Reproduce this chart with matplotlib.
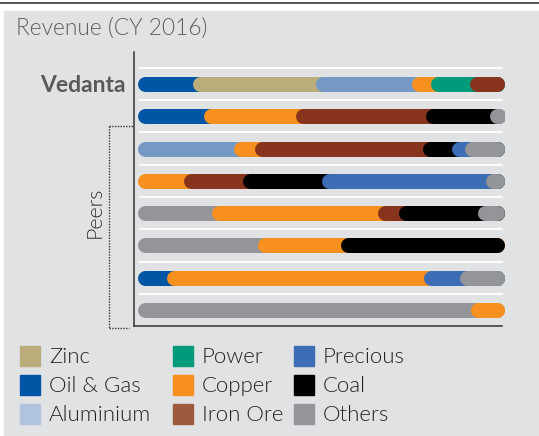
import numpy as np
import matplotlib
matplotlib.use("Agg")
import matplotlib.pyplot as plt
from matplotlib.patches import Rectangle
from matplotlib.lines import Line2D

# data (share of revenue, %)
companies = ["Vedanta", "Peer 1", "Peer 2", "Peer 3", "Peer 4", "Peer 5", "Peer 6", "Peer 7"]
segments = [
    ["Oil & Gas", "Zinc", "Aluminium", "Copper", "Power", "Iron Ore"],
    ["Oil & Gas", "Copper", "Iron Ore", "Coal", "Others"],
    ["Aluminium", "Copper", "Iron Ore", "Coal", "Precious", "Others"],
    ["Copper", "Iron Ore", "Coal", "Precious", "Others"],
    ["Others", "Copper", "Iron Ore", "Coal", "Others"],
    ["Others", "Copper", "Coal"],
    ["Oil & Gas", "Copper", "Precious", "Others"],
    ["Others", "Copper"],
]
shares = [
    [14.8, 33.7, 26.0, 5.3, 10.4, 9.8],
    [17.8, 25.1, 35.5, 17.8, 3.8],
    [26.2, 5.5, 45.9, 7.8, 3.6, 11.0],
    [12.6, 15.8, 21.7, 44.6, 5.3],
    [20.2, 45.1, 5.7, 21.6, 7.4],
    [32.5, 22.8, 44.7],
    [7.9, 70.0, 9.8, 12.3],
    [90.7, 9.3],
]

legend_order = ["Zinc", "Oil & Gas", "Aluminium",
                "Power", "Copper", "Iron Ore",
                "Precious", "Coal", "Others"]

bar_colors = {
    "Zinc": "#BBAD7B", "Oil & Gas": "#0055A4", "Aluminium": "#7599C5",
    "Power": "#009B7A", "Copper": "#F7901E", "Iron Ore": "#88341D",
    "Precious": "#3C6DB5", "Coal": "#000000", "Others": "#939598",
}
legend_colors = dict(bar_colors)
legend_colors["Aluminium"] = "#B0C4DF"
legend_colors["Iron Ore"] = "#9E5A3D"

W, H = 539, 436
fx = lambda x: x / W
fy = lambda y: 1 - y / H

plt.rcParams["font.family"] = ["Lato", "DejaVu Sans"]

fig = plt.figure(figsize=(W / 100, H / 100), dpi=100)
fig.patch.set_facecolor("white")

# grey panel + top rule
fig.patches.append(Rectangle((fx(4), 0), 1 - fx(4), fy(11), transform=fig.transFigure,
                             color="#E1E2E4", zorder=-5))
fig.lines.append(Line2D([0, 1], [fy(2.7), fy(2.7)], transform=fig.transFigure,
                        color="#3a3a3a", lw=1.2))

fig.text(fx(16), fy(28), "Revenue (CY 2016)", fontsize=16.4, color="#5F6062",
         ha="left", va="center", fontweight=300)

# bars
ax = fig.add_axes([fx(134), fy(326), fx(505) - fx(134), (326 - 52) / H])
ax.set_zorder(5)
ax.set_xlim(-1.0, 100)
ax.set_ylim(7.495, -0.991)
ax.axis("off")

px_per_unit = 366 / 100.0
bar_px = 15
r = bar_px / 2 / px_per_unit
lw = bar_px * 72 / 100

for i, (segs, vals) in enumerate(zip(segments, shares)):
    ax.plot([0.7, 99.1], [i - 0.5, i - 0.5], color="white", lw=1.3, zorder=1)
    lefts = np.concatenate([[0], np.cumsum(vals)[:-1]])
    end = np.sum(vals)
    for j, (name, left) in enumerate(zip(segs, lefts)):
        ax.plot([left + r, end - r], [i, i], color=bar_colors[name], lw=lw,
                solid_capstyle="round", zorder=2 + j)

# axis lines
fig.lines.append(Line2D([fx(134.3), fx(134.3)], [fy(52), fy(326)], transform=fig.transFigure,
                        color="#333333", lw=1.1))
fig.lines.append(Line2D([fx(134.3), fx(502)], [fy(326), fy(326)], transform=fig.transFigure,
                        color="#333333", lw=1.1))

fig.text(fx(126), fy(85), companies[0], fontsize=16.5, fontweight="bold", color="#58595B",
         ha="right", va="center")

# peers bracket
dots = dict(transform=fig.transFigure, color="#333333", lw=1, linestyle=(0, (1, 1)))
fig.lines.append(Line2D([fx(109), fx(109)], [fy(126), fy(328)], **dots))
fig.lines.append(Line2D([fx(109), fx(134)], [fy(126), fy(126)], **dots))
fig.lines.append(Line2D([fx(109), fx(129)], [fy(328), fy(328)], **dots))
fig.text(fx(95), fy(212), "Peers", fontsize=15.5, color="#333333", rotation=90,
         ha="center", va="center", fontweight=300)

# legend
col_sq = [20, 173, 294]
row_y = [356, 385, 414]
for k, name in enumerate(legend_order):
    c, rr = divmod(k, 3)
    x0, yc = col_sq[c], row_y[rr]
    fig.patches.append(Rectangle((fx(x0), fy(yc + 10)), 20 / W, 20 / H,
                                 transform=fig.transFigure, color=legend_colors[name]))
    fig.text(fx(x0 + 29), fy(yc + 1), name, fontsize=16, color="#222222",
             ha="left", va="center", fontweight=300)

fig.savefig("out.png", dpi=100)
